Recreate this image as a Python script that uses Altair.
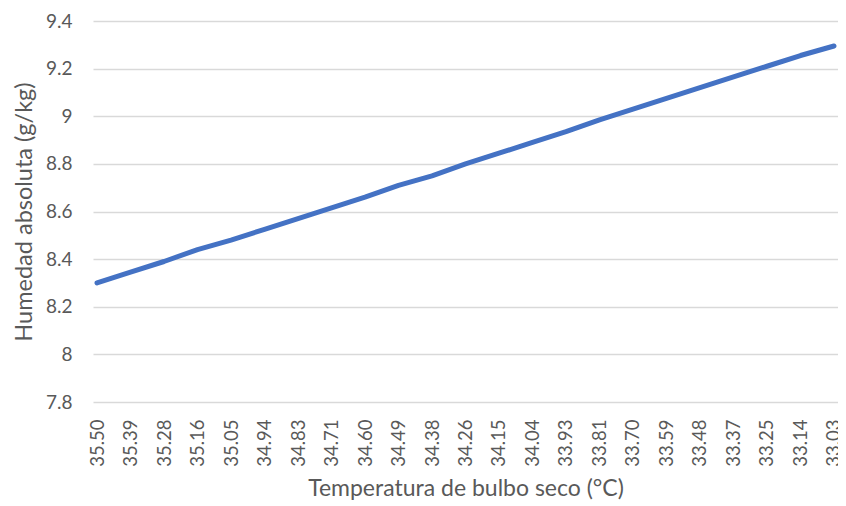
import altair as alt
import pandas as pd

temps = ["35.50", "35.39", "35.28", "35.16", "35.05", "34.94", "34.83", "34.71",
         "34.60", "34.49", "34.38", "34.26", "34.15", "34.04", "33.93", "33.81",
         "33.70", "33.59", "33.48", "33.37", "33.25", "33.14", "33.03"]
humidity = [8.30, 8.345, 8.39, 8.44, 8.48, 8.525, 8.57, 8.615, 8.66, 8.71, 8.75, 8.80,
            8.845, 8.89, 8.935, 8.985, 9.03, 9.075, 9.12, 9.165, 9.21, 9.255, 9.295]
y_ticks = [7.8, 8.0, 8.2, 8.4, 8.6, 8.8, 9.0, 9.2, 9.4]

df = pd.DataFrame({"t": temps, "h": humidity})

FONT = "Lato"
GRAY = "#595959"

chart = alt.Chart(df).mark_line(color="#4472C4", strokeWidth=5, strokeCap="round", strokeJoin="round").encode(
    x=alt.X("t:O", sort=temps,
            scale=alt.Scale(type="point", padding=0.12),
            axis=alt.Axis(title="Temperatura de bulbo seco (°C)", labelAngle=-90,
                          labelAlign="right", labelBaseline="middle",
                          labelPadding=17, ticks=False, domain=False, grid=False,
                          labelFont=FONT, labelFontSize=18.5, labelColor=GRAY,
                          titleFont=FONT, titleFontSize=23, titleFontWeight="normal",
                          titleColor=GRAY, titleY=93, titleBaseline="alphabetic")),
    y=alt.Y("h:Q",
            scale=alt.Scale(domain=[7.8, 9.4], nice=False, zero=False),
            axis=alt.Axis(title="Humedad absoluta (g/kg)", values=y_ticks, format="~g",
                          ticks=False, domain=False, grid=True, gridColor="#d9d9d9",
                          gridWidth=1.5, labelPadding=21,
                          labelFont=FONT, labelFontSize=19, labelColor=GRAY,
                          titleFont=FONT, titleFontSize=23.5, titleFontWeight="normal",
                          titleColor=GRAY, titleX=-69, titleBaseline="middle")),
).properties(
    width=745, height=381,
    autosize=alt.AutoSizeParams(type="none"),
    padding={"left": 85, "top": 13, "right": 0, "bottom": 98},
).configure_view(stroke=None)

chart.save("out.html", embed_options={"renderer": "svg", "actions": False})
